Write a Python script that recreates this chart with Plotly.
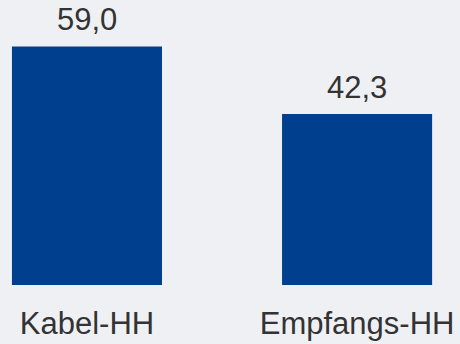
import plotly.graph_objects as go

categories = ["Kabel-HH", "Empfangs-HH"]
values = [59.0, 42.3]

BG = "#eff0f4"
BAR = "#003f8e"
TXT = "#333333"
FONT = "Liberation Sans, Arial, sans-serif"

fig = go.Figure()
fig.add_trace(go.Bar(
    x=categories, y=values, marker_color=BAR, width=0.5556,
    marker_line_width=0, hoverinfo="skip",
))
for c, v in zip(categories, values):
    fig.add_annotation(
        x=c, y=v, text=f"{v:.1f}".replace(".", ","), showarrow=False,
        yanchor="bottom", yshift=7, font=dict(size=31, color=TXT, family=FONT),
    )

fig.update_layout(
    width=460, height=344,
    margin=dict(l=0, r=0, t=0, b=59),
    paper_bgcolor=BG, plot_bgcolor=BG,
    showlegend=False,
    xaxis=dict(range=[-0.322, 1.381], showgrid=False, zeroline=False, showline=False,
               ticks="", ticklabelstandoff=17,
               tickfont=dict(size=31, color=TXT, family=FONT)),
    yaxis=dict(range=[0, 70.5], visible=False),
)
fig.write_html("out.html", config={"displayModeBar": False},
               post_script="document.body.style.margin='0';document.body.style.background='%s';" % BG)
